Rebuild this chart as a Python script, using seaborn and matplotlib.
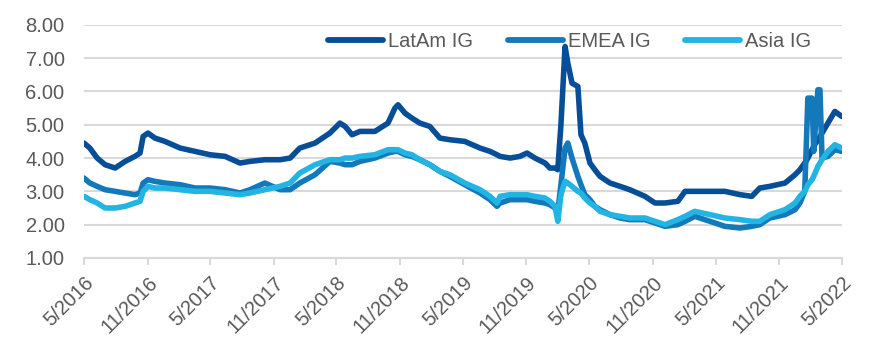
import matplotlib
matplotlib.use("Agg")
import matplotlib.pyplot as plt
from matplotlib.lines import Line2D
import seaborn as sns
import pandas as pd
import numpy as np

dates = [
    "2016-05-01", "2016-05-18", "2016-06-08", "2016-07-01", "2016-07-30", "2016-08-28",
    "2016-09-25", "2016-10-10", "2016-10-19", "2016-11-02", "2016-11-22", "2016-12-21",
    "2017-02-03", "2017-03-18", "2017-04-30", "2017-06-13", "2017-07-26", "2017-08-24",
    "2017-10-06", "2017-11-19", "2017-12-18", "2018-01-15", "2018-02-28", "2018-04-12",
    "2018-05-11", "2018-05-26", "2018-06-15", "2018-07-08", "2018-08-20", "2018-09-27",
    "2018-10-17", "2018-10-26", "2018-11-15", "2018-12-05", "2018-12-28", "2019-01-26",
    "2019-02-24", "2019-03-25", "2019-05-07", "2019-06-20", "2019-07-19", "2019-08-08",
    "2019-08-17", "2019-09-15", "2019-10-13", "2019-11-03", "2019-11-26", "2019-12-25",
    "2020-01-08", "2020-01-23", "2020-01-31", "2020-02-09", "2020-02-21", "2020-02-29",
    "2020-03-12", "2020-03-29", "2020-04-07", "2020-04-18", "2020-05-03", "2020-05-17",
    "2020-06-01", "2020-06-30", "2020-07-29", "2020-08-26", "2020-10-09", "2020-11-07",
    "2020-12-06", "2021-01-12", "2021-02-02", "2021-03-02", "2021-04-15", "2021-05-28",
    "2021-07-11", "2021-08-14", "2021-09-06", "2021-10-05", "2021-11-18", "2021-12-17",
    "2021-12-31", "2022-01-14", "2022-01-23", "2022-02-04", "2022-02-09", "2022-02-21",
    "2022-02-27", "2022-03-05", "2022-03-22", "2022-04-11", "2022-05-01",
]

latam_ig = [
    4.45, 4.30, 4.00, 3.80, 3.70, 3.90,
    4.05, 4.15, 4.65, 4.75, 4.60, 4.50,
    4.30, 4.20, 4.10, 4.05, 3.85, 3.90,
    3.95, 3.95, 4.00, 4.30, 4.45, 4.75,
    5.05, 4.95, 4.70, 4.80, 4.80, 5.05,
    5.50, 5.60, 5.35, 5.20, 5.05, 4.95,
    4.60, 4.55, 4.50, 4.30, 4.20, 4.10,
    4.05, 4.00, 4.05, 4.15, 4.00, 3.85,
    3.70, 3.70, 3.65, 5.00, 7.35, 6.85,
    6.25, 6.15, 4.70, 4.45, 3.85, 3.65,
    3.45, 3.25, 3.15, 3.05, 2.85, 2.65,
    2.65, 2.70, 3.00, 3.00, 3.00, 3.00,
    2.90, 2.85, 3.10, 3.15, 3.25, 3.50,
    3.65, 3.85, 4.00, 4.25, 4.35, 4.55,
    4.65, 4.75, 5.05, 5.40, 5.25,
]

emea_ig = [
    3.40, 3.25, 3.15, 3.05, 3.00, 2.95,
    2.90, 2.95, 3.25, 3.35, 3.30, 3.25,
    3.20, 3.10, 3.10, 3.05, 2.95, 3.05,
    3.25, 3.05, 3.05, 3.25, 3.50, 3.90,
    3.85, 3.80, 3.80, 3.90, 4.00, 4.15,
    4.20, 4.20, 4.10, 4.05, 3.95, 3.80,
    3.60, 3.45, 3.20, 2.95, 2.75, 2.55,
    2.65, 2.75, 2.75, 2.75, 2.70, 2.65,
    2.60, 2.50, 2.40, 3.20, 4.30, 4.45,
    4.00, 3.45, 3.20, 2.90, 2.75, 2.55,
    2.45, 2.30, 2.20, 2.15, 2.15, 2.05,
    1.95, 2.00, 2.10, 2.25, 2.10, 1.95,
    1.90, 1.95, 2.00, 2.20, 2.30, 2.45,
    2.65, 3.00, 5.80, 5.80, 4.20, 6.05,
    6.05, 4.00, 4.05, 4.25, 4.20,
]

asia_ig = [
    2.85, 2.75, 2.65, 2.50, 2.50, 2.55,
    2.65, 2.70, 3.00, 3.15, 3.10, 3.10,
    3.05, 3.00, 3.00, 2.95, 2.90, 2.95,
    3.05, 3.15, 3.25, 3.55, 3.80, 3.95,
    3.95, 4.00, 4.00, 4.05, 4.10, 4.25,
    4.25, 4.25, 4.15, 4.10, 3.95, 3.80,
    3.60, 3.50, 3.25, 3.05, 2.85, 2.65,
    2.85, 2.90, 2.90, 2.90, 2.85, 2.80,
    2.70, 2.55, 2.10, 2.90, 3.30, 3.25,
    3.15, 3.00, 2.95, 2.80, 2.65, 2.55,
    2.40, 2.30, 2.25, 2.20, 2.20, 2.10,
    2.00, 2.15, 2.25, 2.40, 2.30, 2.20,
    2.15, 2.10, 2.10, 2.30, 2.45, 2.65,
    2.85, 3.00, 3.20, 3.35, 3.45, 3.75,
    3.85, 3.95, 4.20, 4.40, 4.30,
]

series_names = ["LatAm IG", "EMEA IG", "Asia IG"]
series_colors = ["#064E98", "#1479BA", "#22B4E2"]

tick_dates = ["2016-05-01", "2016-11-01", "2017-05-01", "2017-11-01", "2018-05-01",
              "2018-11-01", "2019-05-01", "2019-11-01", "2020-05-01", "2020-11-01",
              "2021-05-01", "2021-11-01", "2022-05-01"]
tick_labels = ["5/2016", "11/2016", "5/2017", "11/2017", "5/2018", "11/2018", "5/2019",
               "11/2019", "5/2020", "11/2020", "5/2021", "11/2021", "5/2022"]
y_ticks = [1, 2, 3, 4, 5, 6, 7, 8]

sns.set_theme(style="white")
plt.rcParams["font.family"] = ["Liberation Sans", "DejaVu Sans"]

df = pd.DataFrame({
    "date": pd.to_datetime(dates * 3),
    "value": latam_ig + emea_ig + asia_ig,
    "series": np.repeat(series_names, len(dates)),
})

fig = plt.figure(figsize=(8.75, 3.5), dpi=100)
ax = fig.add_axes([0.096, 0.263, 0.866, 0.666])

grid_color = "#D9D9D9"
text_color = "#595959"
fs = 14.5

sns.lineplot(data=df, x="date", y="value", hue="series", hue_order=series_names,
             palette=series_colors, linewidth=4.0, ax=ax, legend=False,
             estimator=None, sort=False)
for line in ax.lines:
    line.set_solid_capstyle("round")
    line.set_solid_joinstyle("round")

ax.set_xlim(pd.Timestamp(tick_dates[0]), pd.Timestamp(tick_dates[-1]))
ax.set_ylim(1, 8)
ax.set_yticks(y_ticks)
ax.set_yticklabels([f"{v:.2f}" for v in y_ticks])
ax.set_xticks(pd.to_datetime(tick_dates))
ax.set_xticklabels(tick_labels, rotation=45, ha="right", rotation_mode="anchor")
ax.set_xlabel("")
ax.set_ylabel("")

ax.yaxis.grid(True, color=grid_color, linewidth=1.5)
ax.set_axisbelow(True)
for s in ["left", "right", "top"]:
    ax.spines[s].set_visible(False)
ax.spines["bottom"].set_color(grid_color)
ax.spines["bottom"].set_linewidth(1.5)
ax.tick_params(axis="x", which="major", bottom=True, length=5, width=1.5,
               color=grid_color, labelsize=fs, labelcolor=text_color, pad=6)
ax.tick_params(axis="y", left=False, labelsize=fs, labelcolor=text_color, pad=8)

handles = [Line2D([0], [0], color=c, linewidth=4.2, solid_capstyle="round") for c in series_colors]
leg = ax.legend(handles, series_names, loc="upper right", ncol=3, frameon=False,
                bbox_to_anchor=(0.97, 1.005), fontsize=fs, handlelength=2.7,
                handletextpad=0.25, columnspacing=1.75, borderaxespad=0.0)
for t in leg.get_texts():
    t.set_color(text_color)

fig.savefig("out.png", dpi=100)
